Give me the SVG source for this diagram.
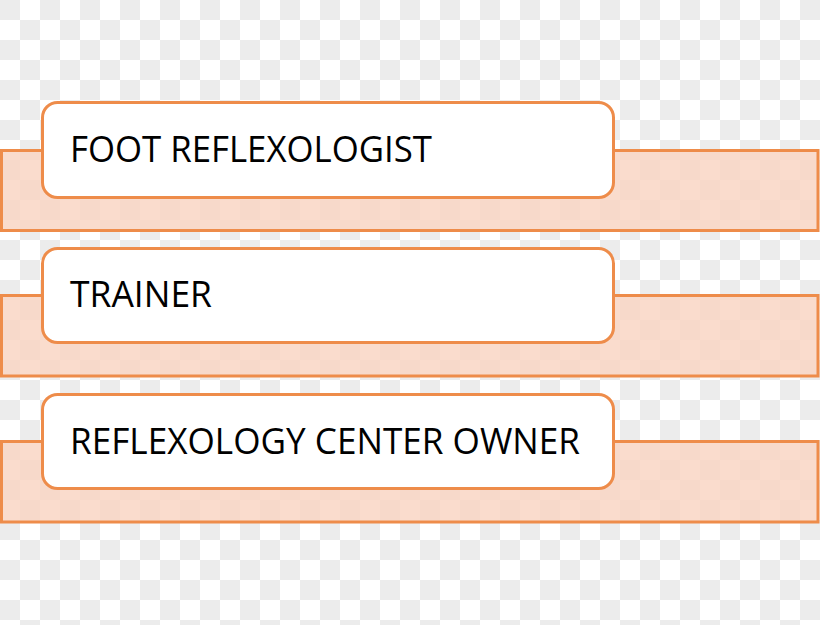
<svg xmlns="http://www.w3.org/2000/svg" width="820" height="625" viewBox="0 0 820 625">
<defs>
<pattern id="checker" width="40" height="40" patternUnits="userSpaceOnUse">
<rect width="40" height="40" fill="#ffffff"/>
<rect width="20" height="20" fill="#ececec"/>
<rect x="20" y="20" width="20" height="20" fill="#ececec"/>
</pattern>
<style>
.band{fill:#f9d6c4;fill-opacity:0.85;stroke:#ee8c4a;stroke-width:3}
.box{fill:#ffffff;stroke:#ee8c4a;stroke-width:3}
.lbl{font-family:"Open Sans","Liberation Sans",sans-serif;font-size:36px;fill:#000000}
</style>
</defs>
<rect width="820" height="625" fill="url(#checker)"/>
<g id="item1">
<rect class="band" x="1.5" y="150.5" width="816.5" height="80"/>
<rect class="box" x="42.5" y="102.5" width="571" height="95" rx="15"/>
<text class="lbl" x="70" y="162" textLength="362" lengthAdjust="spacingAndGlyphs">FOOT REFLEXOLOGIST</text>
</g>
<g id="item2">
<rect class="band" x="1.5" y="295.5" width="816.5" height="80.5"/>
<rect class="box" x="42.5" y="248.5" width="571" height="94" rx="15"/>
<text class="lbl" x="70" y="307" textLength="142" lengthAdjust="spacingAndGlyphs">TRAINER</text>
</g>
<g id="item3">
<rect class="band" x="1.5" y="441.5" width="816.5" height="80.5"/>
<rect class="box" x="42.5" y="394.5" width="571" height="94" rx="15"/>
<text class="lbl" x="70" y="454" textLength="510" lengthAdjust="spacingAndGlyphs">REFLEXOLOGY CENTER OWNER</text>
</g>
<g id="connectors"/>
</svg>
